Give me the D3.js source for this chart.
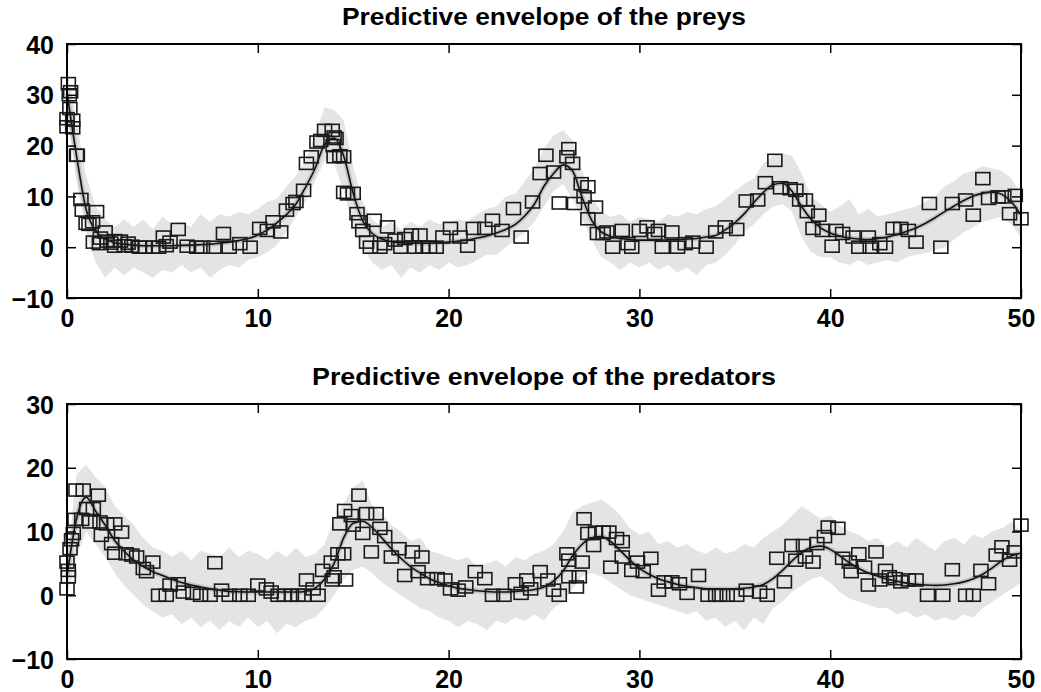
<!DOCTYPE html>
<html>
<head>
<meta charset="utf-8">
<script src="https://cdn.jsdelivr.net/npm/d3@7"></script>
<style>
  body { margin: 0; background: #fff; }
  svg { display: block; }
  text { font-family: "Liberation Sans", Arial, Helvetica, sans-serif; font-weight: bold; fill: #000; }
</style>
</head>
<body>
<div id="chart"></div>
<script>
var w = 1041;
var h = 692;

// time grid of the envelopes and mean curves (step 0.5)
var tGrid = d3.range(0, 50.01, 0.5);

// preys
var preyMean = [30.5, 18, 7.5, 3.2, 1.6, 0.9, 0.6, 0.4, 0.3, 0.3, 0.3, 0.3, 0.35, 0.4, 0.5, 0.6, 0.8, 1.0, 1.3, 1.7,
  2.4, 3.4, 4.8, 6.4, 8.5, 11.8, 15.5, 20.2, 21.5, 18, 10.6, 5.2, 2.7, 1.6, 1.1, 0.9, 0.8, 0.8, 0.8, 0.9,
  1.0, 1.2, 1.4, 1.8, 2.2, 2.8, 3.5, 4.5, 6.2, 8.5, 12.0, 14.5, 16.2, 15.0, 9.8, 5.3, 3.0, 2.1, 1.7, 1.5,
  1.4, 1.4, 1.4, 1.45, 1.5, 1.6, 1.7, 2.0, 2.3, 3.4, 4.8, 6.6, 8.8, 10.8, 12.3, 12.6, 11.0, 8.0, 5.5, 3.8,
  2.8, 2.2, 1.8, 1.6, 1.5, 1.7, 2.0, 2.5, 3.1, 3.8, 4.7, 5.8, 7.0, 8.1, 9.2, 10.1, 10.6, 10.9, 10.4, 8.9, 6.3];
var preyUpper = [35, 25, 14, 8, 5.5, 4, 5.5, 4, 5.5, 3.5, 6, 4.5, 5, 4, 6.5, 5, 6.5, 6, 7, 6.5,
  7.5, 9, 9.5, 12, 14, 17, 22, 27.5, 27, 25, 16, 9, 5.5, 4, 5, 3.5, 5, 4, 5.5, 4.5,
  5, 5.5, 5, 6.5, 7.5, 8, 10, 10.5, 13, 15.5, 19.5, 22, 23, 21, 15, 10, 7, 6, 6.5, 5,
  6, 5.5, 5, 6.5, 6, 7, 6.5, 7.5, 8, 9.5, 11, 12.5, 13.5, 16.5, 18, 18.5, 18, 14.5, 10, 8.5,
  7, 8, 9.5, 6.5, 7.5, 6, 6.5, 7, 7.5, 8, 9, 10, 12, 13, 14.5, 15, 16, 15.5, 15, 13.5, 10.5];
var preyLower = [26, 13, 3, -3, -6, -4, -5.5, -4, -5, -6, -4.5, -5, -3.5, -5, -4, -6, -4.5, -3.5, -4, -2.5,
  -2, -1, 0.5, 3, 6, 9, 13, 17, 16.5, 11, 4, 0, -3, -4.5, -3.5, -6, -4, -5, -3.5, -4.5,
  -3, -4, -3.5, -2.5, -1.5, -1.5, 0, 1.5, 3, 5, 8, 11, 12.5, 9.5, 5.5, 1.5, -2, -3, -4.5, -3,
  -4, -3, -4.5, -3.5, -5, -4, -5.5, -3.5, -3, -1.5, 0.5, 3, 4.5, 6.5, 8, 8.5, 7, 2, -1, -2,
  -2, -3, -3.5, -2.5, -3.5, -3, -2.5, -3, -2, -1.5, -1.2, -0.5, 0, 1.5, 3, 4, 5, 5.5, 6, 4.5, 2];
var preyObsT = [0.07, 0.19, 0.12, 0.15, 0.0, 0.3, 0.3, 0.0, 0.54, 0.5, 0.73, 0.8, 1.55, 1.0, 1.34, 1.15, 1.38, 1.7, 2.0, 1.75,
  2.1, 2.3, 2.5, 2.5, 2.8, 3.0, 3.2, 3.4, 3.8, 4.1, 4.5, 4.8, 5.05, 5.4, 5.83, 5.2, 6.3, 6.8, 7.1, 7.7,
  8.2, 8.5, 9.06, 9.6, 10.1, 10.5, 10.8, 11.2, 11.5, 11.85, 12.0, 12.4, 12.55, 12.8, 13.1, 13.3, 13.5, 13.9, 14.0, 13.95,
  14.1, 14.0, 14.3, 14.5, 14.5, 14.7, 15.0, 15.2, 15.3, 15.5, 15.7, 15.9, 16.1, 16.4, 16.65, 16.8, 17.2, 17.5, 17.7, 18.05,
  18.2, 18.5, 18.65, 19.0, 19.35, 19.7, 20.1, 20.6, 21.0, 21.3, 21.9, 22.3, 22.8, 23.4, 23.8, 24.4, 24.8, 25.1, 25.5, 25.8,
  26.2, 26.3, 26.5, 26.6, 26.95, 27.1, 27.3, 27.3, 27.7, 27.8, 28.1, 28.3, 28.6, 29.1, 29.4, 29.6, 30.0, 30.4, 30.8, 31.0,
  31.2, 31.7, 32.0, 32.4, 32.8, 33.5, 34.0, 34.5, 35.1, 35.6, 36.2, 36.6, 37.1, 37.4, 37.9, 38.2, 38.4, 38.7, 38.8, 39.4,
  39.1, 39.6, 40.1, 40.3, 40.65, 41.2, 41.5, 42.0, 42.1, 42.6, 42.9, 43.3, 43.7, 44.1, 44.5, 45.2, 45.8, 46.4, 47.1, 47.5,
  48.0, 48.3, 48.8, 49.1, 49.4, 49.7, 50.0];
var preyObsV = [32.2, 30.6, 30.0, 27.3, 25.3, 25, 23.5, 23.7, 18.1, 18.1, 9.4, 7.3, 7, 4.7, 5, 4.5, 1, 0.7, 3, 1.8,
  1.2, 0.8, 0.2, 1.3, 1.2, 0.3, 0.8, 0.2, 0, 0, 0, 0, 2, 1, 3.5, 0.3, 0.2, 0, 0, 0,
  2.7, 0, 0.7, 0, 3.7, 3.3, 5, 3, 7.3, 8.6, 9, 11.2, 16.5, 17.8, 20.7, 21, 23, 23, 21.7, 20,
  21.4, 17.8, 18, 17.8, 10.8, 10.5, 10.6, 6.6, 5, 3.3, 1, 0, 5.3, 0, 0.7, 4, 1.4, 0, 1.7, 2.4,
  0, 2.4, 0, 0, 0, 2, 3.7, 2, 0.2, 3.7, 3.7, 5.3, 3.3, 7.6, 2, 8.9, 14.5, 18.1, 14.8, 8.7,
  17.8, 19.4, 16.5, 8.6, 12.5, 9.9, 11.9, 5.6, 7.9, 2.7, 2.7, 3, 0, 3.3, 0.7, 0, 3.3, 4, 2.7, 3.3,
  0, 3, 0, 0.7, 1, 0, 3, 4, 3.5, 9.1, 9.3, 12.7, 17.1, 11.7, 11.5, 11.2, 9.3, 9.3, 7, 6.3,
  3.7, 3.3, 0.2, 3.3, 2.7, 2, 0, 2, 0, 0.7, 0, 3.7, 3.7, 3.3, 1, 8.6, 0, 8.6, 9.3, 6.3,
  13.5, 9.6, 9.9, 9.9, 6.6, 10.2, 5.6];

// predators
var predMean = [3, 12, 15.4, 13.2, 11.0, 8.6, 6.9, 5.5, 4.5, 3.7, 3.1, 2.5, 2.0, 1.6, 1.3, 1.0, 0.8, 0.6, 0.55, 0.5,
  0.5, 0.5, 0.5, 0.5, 0.5, 0.6, 1.1, 2.5, 5.0, 9.0, 11.3, 11.6, 10.6, 9.0, 7.3, 5.8, 4.5, 3.5, 2.6, 2.0,
  1.5, 1.1, 0.9, 0.7, 0.6, 0.5, 0.5, 0.6, 0.7, 0.9, 1.3, 2.2, 3.8, 6.2, 8.0, 9.0, 9.2, 8.4, 7.0, 5.5,
  4.2, 3.3, 2.6, 2.1, 1.7, 1.4, 1.2, 1.0, 1.0, 0.95, 1.0, 1.1, 1.3, 1.7, 2.6, 3.9, 5.4, 6.7, 7.5, 7.7,
  7.2, 6.2, 5.1, 4.2, 3.5, 3.0, 2.5, 2.2, 1.9, 1.7, 1.6, 1.55, 1.6, 1.8, 2.1, 2.6, 3.3, 4.3, 5.4, 6.2, 6.6];
var predUpper = [5, 19, 20.5, 18.5, 17, 14, 12.5, 11, 9, 7.5, 7, 6, 7, 5.5, 7, 6.5, 6, 7.5, 6, 7,
  6.5, 5.5, 7, 6, 7.5, 6, 6.5, 8, 12, 14.5, 17, 18, 14, 13, 11, 10, 8.5, 9, 7, 6.5,
  6, 5.5, 6, 4.5, 5, 5.5, 4.5, 6, 5.5, 6.5, 7, 8, 10, 13, 14, 14.5, 15, 14, 12.5, 10.5,
  9.5, 10, 8, 8.5, 7.5, 8, 7, 6.5, 7.5, 6.5, 7, 8, 7.5, 9, 10, 11, 12.5, 14, 13, 12,
  12.5, 11, 10, 9.5, 8.5, 9, 7.5, 8.5, 7.5, 9, 8, 7, 8.5, 9, 8, 9.5, 9, 10, 10.5, 11.5, 10];
var predLower = [0, 6, 10, 8, 6, 3.5, 1.5, 0, -1.5, -2.5, -3.5, -3, -4.5, -3.5, -5, -4, -5.5, -4, -5, -3.5,
  -5, -4, -6, -4.5, -5, -4, -3.5, -2, 0, 2.5, 4, 4.5, 3.5, 2, 1, 0, -1, -2, -2.5, -3.5,
  -4, -5, -4, -4.5, -5.5, -4, -4.5, -3.5, -4, -3, -4, -2, -1, 1, 3, 3.5, 3, 2, 1, 0,
  -0.5, -1, -1.5, -2, -2.5, -3, -2.5, -4, -3.5, -5, -4, -5.5, -3.5, -4.5, -2, -1, 0.5, 1.5, 2.5, 3,
  2, 0.5, -0.5, -1, -1.5, -2, -2, -3, -2.5, -3.5, -3, -4, -3.5, -4, -3, -3.5, -2, -1, 0, 1, 2];
var predObsT = [0.0, 0.07, 0.07, 0.0, 0.16, 0.24, 0.33, 0.42, 0.77, 0.47, 0.85, 1.03, 1.38, 1.64, 1.2, 1.73, 1.8, 2.08, 2.5, 2.86,
  2.34, 2.5, 3.1, 3.4, 3.65, 4.0, 4.17, 4.5, 4.8, 5.2, 5.4, 5.83, 6.1, 6.6, 7.0, 7.5, 7.75, 8.1, 8.5, 9.06,
  9.5, 10.0, 10.45, 10.7, 11.06, 11.4, 11.76, 12.1, 12.4, 12.55, 13.16, 12.9, 13.4, 13.85, 13.9, 14.2, 14.3, 14.55, 14.6, 14.0,
  14.5, 14.9, 15.3, 15.0, 15.5, 15.7, 16.2, 16.4, 15.95, 16.65, 17.0, 17.4, 18.1, 18.6, 17.7, 18.4, 18.9, 19.4, 19.8, 20.1,
  20.5, 20.9, 21.4, 21.9, 22.3, 22.9, 23.5, 23.8, 24.1, 24.3, 24.8, 25.2, 25.5, 25.8, 26.2, 26.3, 26.3, 26.7, 26.85, 27.0,
  27.1, 27.3, 27.6, 27.7, 28.1, 28.4, 28.5, 28.8, 29.1, 29.1, 29.6, 29.9, 30.2, 30.6, 31.0, 31.3, 31.7, 32.1, 32.5, 33.1,
  33.6, 34.0, 34.2, 34.6, 35.1, 35.6, 36.3, 36.7, 37.2, 37.6, 38.0, 38.2, 38.6, 38.7, 39.1, 39.3, 39.7, 39.9, 40.4, 40.65,
  41.0, 41.1, 41.5, 41.8, 42.0, 42.4, 42.6, 42.9, 43.1, 43.4, 43.7, 44.1, 44.5, 45.1, 45.9, 46.4, 47.1, 47.5, 47.9, 48.3,
  48.7, 49.0, 49.4, 49.65, 50.0];
var predObsV = [1, 2.9, 3.9, 5.2, 7.3, 8.7, 9.7, 11.9, 11.9, 16.5, 16.5, 13.6, 13.6, 15.7, 11.5, 11.5, 9.4, 11.2, 11.2, 9.9,
  8.1, 6.6, 6.5, 6.3, 6, 4.2, 3.7, 5.2, 0, 0, 1.6, 1.8, 0.5, 0.3, 0, 0, 5.1, 0.8, 0, 0,
  0, 1.6, 1, 0.5, 0, 0, 0, 0, 0, 2.4, 0, 1, 3.9, 5.2, 2.4, 6.5, 11.2, 13.3, 2.4, 2.9,
  6.5, 12.5, 15.7, 11, 9.7, 12.8, 12.8, 10.5, 6.8, 9.2, 6, 7.3, 6.8, 6, 3.1, 3.7, 2.6, 2.6, 2.4, 1,
  0.8, 1.3, 3.7, 2.6, 0, 0, 1.8, 0.3, 2.4, 1, 3.7, 2.4, 0.8, 0, 6.5, 5.5, 2.9, 1.3, 2.9, 5.2,
  12, 9.7, 7.8, 9.9, 9.9, 9.9, 4.4, 8.9, 8.4, 6, 3.9, 5.2, 3.7, 5.8, 0.8, 2.1, 2.1, 1.8, 0.3, 3.1,
  0, 0, 0, 0, 0, 0.8, 0.5, 0, 5.8, 2.1, 7.8, 5.5, 7.8, 6, 5.2, 8.1, 9.2, 10.7, 10.5, 5.8,
  5.2, 3.7, 6.5, 4.4, 1.6, 6.8, 2.4, 3.9, 2.9, 2.6, 2.1, 2.4, 2.4, 0, 0, 4, 0, 0, 3.9, 1.8,
  6.3, 7.6, 5.5, 6.8, 11];

var svg = d3.select("#chart")
  .append("svg")
  .attr("width", w)
  .attr("height", h);

var left = 67, right = 1021;

function panel(cfg) {
  var x = d3.scaleLinear().domain([0, 50]).range([left, right]);
  var y = d3.scaleLinear().domain(cfg.yDomain).range([cfg.bottom, cfg.top]);
  var g = svg.append("g");

  var band = tGrid.map(function(t, i) {
    return { t: t, lo: cfg.lower[i], hi: cfg.upper[i], m: cfg.mean[i] };
  });

  g.append("path")
    .datum(band)
    .attr("fill", "#e4e4e4")
    .attr("d", d3.area()
      .x(function(d) { return x(d.t); })
      .y0(function(d) { return y(d.lo); })
      .y1(function(d) { return y(d.hi); }));

  var line = d3.line()
    .curve(d3.curveMonotoneX)
    .x(function(d) { return x(d.t); })
    .y(function(d) { return y(d.m); });

  // soft halo round the mean
  g.append("path").datum(band)
    .attr("fill", "none").attr("stroke", "#777").attr("stroke-opacity", 0.3)
    .attr("stroke-width", 5).attr("d", line);
  g.append("path").datum(band)
    .attr("fill", "none").attr("stroke", "#111")
    .attr("stroke-width", 1.6).attr("d", line);

  var obs = cfg.obsT.map(function(t, i) { return { t: t, v: cfg.obsV[i] }; });
  g.selectAll("rect.obs")
    .data(obs)
    .enter()
    .append("rect")
    .attr("class", "obs")
    .attr("x", function(d) { return x(d.t) - 7; })
    .attr("y", function(d) { return y(d.v) - 6; })
    .attr("width", 14)
    .attr("height", 12)
    .attr("fill", "none")
    .attr("stroke", "#1a1a1a")
    .attr("stroke-width", 1.6);

  // axes, ticks pointing inwards
  var xt = [0, 10, 20, 30, 40, 50];
  g.append("g").attr("transform", "translate(0," + cfg.bottom + ")")
    .call(d3.axisBottom(x).tickValues(xt).tickSize(-9).tickPadding(11));
  g.append("g").attr("transform", "translate(0," + cfg.top + ")")
    .call(d3.axisTop(x).tickValues(xt).tickSize(-9).tickFormat(""));
  var ay = g.append("g").attr("transform", "translate(" + left + ",0)")
    .call(d3.axisLeft(y).tickValues(cfg.yTicks).tickSize(-9).tickPadding(13));
  g.append("g").attr("transform", "translate(" + right + ",0)")
    .call(d3.axisRight(y).tickValues(cfg.yTicks).tickSize(-9).tickFormat(""));

  g.selectAll(".domain").remove();
  g.selectAll(".tick line").attr("stroke", "#000").attr("stroke-width", 1.5);
  g.selectAll(".tick text")
    .style("font-family", "'Liberation Sans', Arial, sans-serif")
    .style("font-weight", "bold")
    .style("font-size", "25px")
    .attr("fill", "#000");
  ay.selectAll(".tick text").attr("dy", "0.36em");

  g.append("rect")
    .attr("x", left).attr("y", cfg.top)
    .attr("width", right - left).attr("height", cfg.bottom - cfg.top)
    .attr("fill", "none").attr("stroke", "#000").attr("stroke-width", 2);

  g.append("text")
    .attr("x", (left + right) / 2)
    .attr("y", cfg.titleY)
    .attr("text-anchor", "middle")
    .attr("textLength", cfg.titleLen)
    .attr("lengthAdjust", "spacingAndGlyphs")
    .style("font-size", "23px")
    .text(cfg.title);
}

panel({
  top: 44, bottom: 298, yDomain: [-10, 40], yTicks: [-10, 0, 10, 20, 30, 40],
  mean: preyMean, upper: preyUpper, lower: preyLower, obsT: preyObsT, obsV: preyObsV,
  title: "Predictive envelope of the preys", titleY: 25, titleLen: 404
});
panel({
  top: 404, bottom: 659, yDomain: [-10, 30], yTicks: [-10, 0, 10, 20, 30],
  mean: predMean, upper: predUpper, lower: predLower, obsT: predObsT, obsV: predObsV,
  title: "Predictive envelope of the predators", titleY: 385, titleLen: 464
});
</script>
</body>
</html>
